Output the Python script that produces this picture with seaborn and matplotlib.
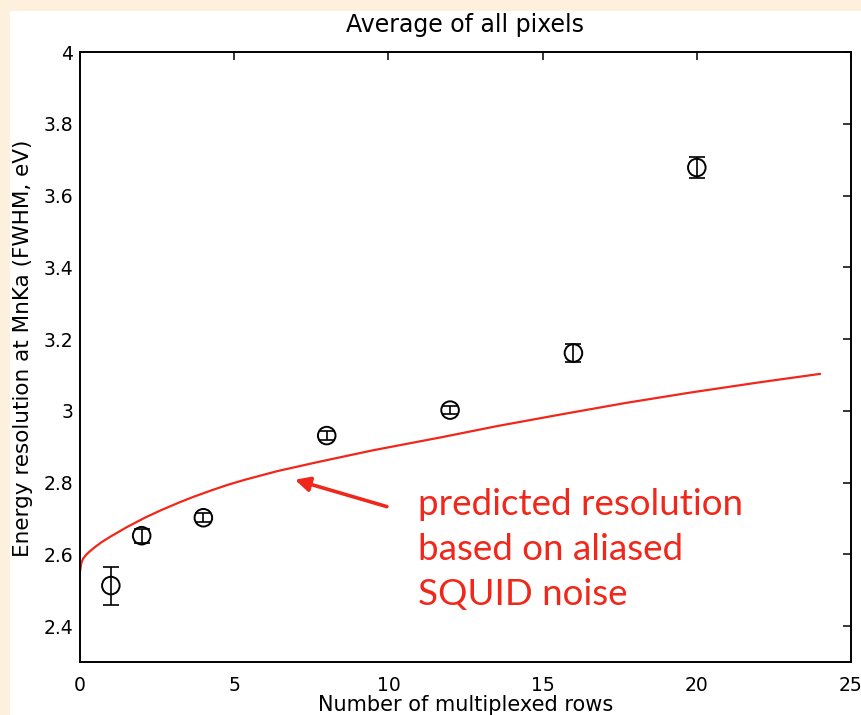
import matplotlib
matplotlib.use("Agg")
import matplotlib.pyplot as plt
import seaborn as sns
import pandas as pd
from matplotlib.patches import Rectangle

sns.set_theme(style="white")
plt.rcParams['font.family'] = ['DejaVu Sans']
plt.rcParams['text.color'] = 'black'
plt.rcParams['axes.labelcolor'] = 'black'

# measured points
rows = [1, 2, 4, 8, 12, 16, 20]
resolution = [2.513, 2.652, 2.702, 2.931, 3.002, 3.161, 3.678]
res_err = [0.053, 0.020, 0.012, 0.012, 0.012, 0.026, 0.030]

# predicted curve
curve_x = [0.0, 0.04, 0.1, 0.2, 0.3, 0.48, 0.7, 1.0, 1.5, 2.1, 2.6, 3.2, 3.7,
           4.25, 4.8, 5.35, 6.4, 7.7, 9.5, 11.7, 13.5, 15.6, 17.7, 19.8, 22.0, 24.0]
curve_y = [2.552, 2.575, 2.588, 2.599, 2.607, 2.620, 2.634, 2.650, 2.675, 2.702,
           2.722, 2.744, 2.761, 2.778, 2.794, 2.808, 2.832, 2.857, 2.890, 2.926,
           2.957, 2.990, 3.022, 3.051, 3.079, 3.103]

xticks = [0, 5, 10, 15, 20, 25]
yticks = [2.4, 2.6, 2.8, 3.0, 3.2, 3.4, 3.6, 3.8, 4.0]
ytick_labels = ["2.4", "2.6", "2.8", "3", "3.2", "3.4", "3.6", "3.8", "4"]

df_pts = pd.DataFrame({"rows": rows, "res": resolution})
df_curve = pd.DataFrame({"x": curve_x, "y": curve_y})

fig = plt.figure(figsize=(8.62, 7.15), dpi=100)
fig.patch.set_facecolor('#fdf1de')
fig.patches.append(Rectangle((10 / 862, 0), 1 - 10 / 862, 1 - 11 / 715,
                             transform=fig.transFigure, facecolor='white',
                             edgecolor='none', zorder=-5))
ax = fig.add_axes([80 / 862, 1 - 662 / 715, (851 - 80) / 862, (662 - 52) / 715])
ax.set_zorder(2)
ax.set_facecolor('white')

sns.lineplot(data=df_curve, x="x", y="y", ax=ax, color='#f0271a', linewidth=1.6,
             sort=True, estimator=None)
ax.errorbar(rows, resolution, yerr=res_err, fmt='none', ecolor='black',
            elinewidth=1.2, capsize=5.5, capthick=1.2, zorder=3)
sns.scatterplot(data=df_pts, x="rows", y="res", ax=ax, marker='o', s=160,
                facecolor='none', edgecolor='black', linewidth=1.4, zorder=4)

ax.set_xlim(0, 25)
ax.set_ylim(2.3, 4.0)
ax.set_xticks(xticks)
ax.set_xticklabels([str(t) for t in xticks])
ax.set_yticks(yticks)
ax.set_yticklabels(ytick_labels)
ax.tick_params(direction='in', length=6, width=1.1, top=True, right=True,
               labelsize=13.5, colors='black', pad=5)
ax.tick_params(axis='x', pad=10)
for s in ax.spines.values():
    s.set_color('black')
    s.set_linewidth(1.4)

ax.set_title("Average of all pixels", fontsize=17, pad=14.5)
ax.set_xlabel("Number of multiplexed rows", fontsize=15, labelpad=0)
ax.set_ylabel("Energy resolution at MnKa (FWHM, eV)", fontsize=15.5)
ax.yaxis.set_label_coords(-0.061, 0.515)

ax.annotate("", xy=(6.97, 2.808), xytext=(9.95, 2.733),
            arrowprops=dict(arrowstyle='-|>', color='#f0271a', lw=2.6,
                            mutation_scale=22, shrinkA=0, shrinkB=0))
ax.text(10.96, 2.785, "predicted resolution\nbased on aliased\nSQUID noise",
        color='#f0271a', fontsize=26.5, family=['Lato', 'DejaVu Sans'],
        va='top', ha='left', linespacing=1.45)

fig.savefig("out.png", dpi=100, facecolor=fig.get_facecolor())
